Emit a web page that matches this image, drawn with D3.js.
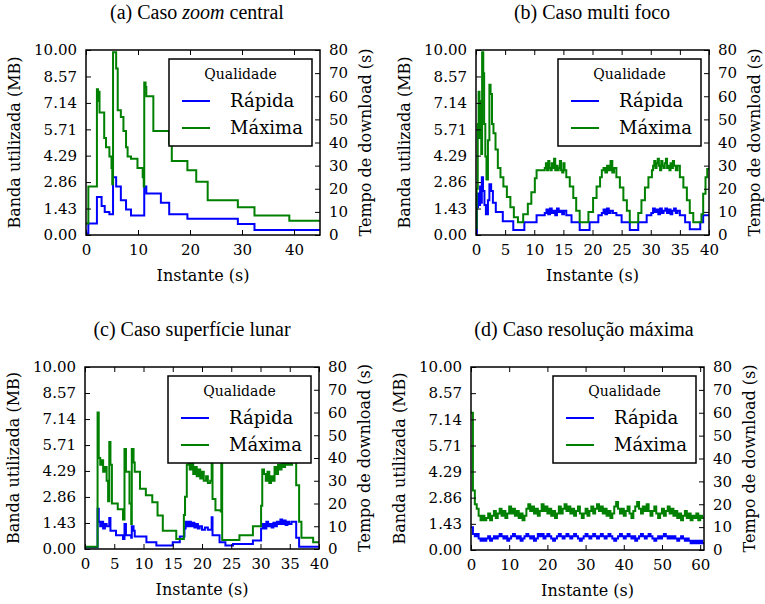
<!DOCTYPE html>
<html>
<head>
<meta charset="utf-8">
<script src="https://cdn.jsdelivr.net/npm/d3@7"></script>
<style>
  body { margin: 0; background: #fff; }
  svg { display: block; }
</style>
</head>
<body>
<svg id="fig" width="765" height="604" font-family="DejaVu Serif"></svg>
<script>
// fonts
const SERIF = '"DejaVu Serif", "Liberation Serif"'
const TIMES = '"Liberation Serif"'

// shared ticks
const bandTicks = [0, 1.43, 2.86, 4.29, 5.71, 7.14, 8.57, 10.0]
const tempoTicks = [0, 10, 20, 30, 40, 50, 60, 70, 80]
const seriesNames = ['Rápida', 'Máxima']
const seriesColors = ['#0000ff', '#008000']

// (a) zoom central -- [instante, tempo de download]
const zoomRapida = [[0, 0.7], [0.45, 5], [2.1, 16.4], [3.0, 12.5], [3.6, 10], [4.5, 9], [5.2, 25], [5.8, 21], [6.7, 15],
  [7.7, 11], [8.65, 8.4], [11.1, 8.4], [11.2, 21], [11.6, 18], [14.4, 14], [16.0, 9], [19.5, 7], [29.2, 4.8],
  [32.4, 2.2], [45, 2.2]]
const zoomMaxima = [[0, 5], [0.45, 21], [2.1, 63], [2.3, 58], [2.45, 62], [2.6, 53], [3.5, 42], [3.85, 38], [4.5, 34],
  [4.9, 29], [5.05, 22], [5.2, 79], [5.8, 72], [6.1, 54], [6.7, 51], [7.2, 45], [7.7, 38], [8.0, 34], [8.65, 33],
  [9.9, 29], [10.9, 25], [11.1, 21], [11.2, 66], [11.45, 64], [11.6, 60], [12.95, 45], [16.0, 39.5], [16.5, 32],
  [19.5, 28], [21.2, 23], [23.4, 15], [29.2, 12], [32.4, 8.4], [39.1, 6.2], [45, 6.2]]

// (b) multi foco
const multiRapida = [[0, 0.5], [0.15, 12], [0.35, 18], [0.5, 13], [0.7, 21], [0.85, 14], [1.0, 25], [1.2, 19], [1.45, 13],
  [1.7, 9], [2.05, 15], [2.3, 22], [2.6, 19], [2.9, 14], [3.4, 10], [4.6, 6], [6.4, 2.2], [8.3, 5.5], [10.4, 8.5],
  [11.8, 9.5], [12.1, 11], [12.4, 9], [12.7, 11.5], [13.0, 9.5], [13.3, 10.5], [13.6, 8.5], [13.9, 11.5], [14.2, 10],
  [14.5, 10.5], [14.8, 9], [15.1, 10.5], [15.5, 8.5], [16.4, 5.5], [17.8, 2.2], [19.5, 5.5], [21.0, 8.5], [21.6, 9.5],
  [21.9, 11], [22.2, 9], [22.5, 11.5], [22.8, 9.5], [23.1, 10.5], [23.5, 9.5], [24.1, 8.5], [25.0, 5.5], [26.4, 2.2],
  [27.85, 5.5], [29.3, 8.5], [30.1, 9.5], [30.4, 11.5], [30.7, 10], [31.0, 11], [31.3, 9], [31.6, 11.5], [31.9, 9.5],
  [32.2, 10.5], [32.5, 11.5], [32.8, 9.5], [33.1, 11], [33.4, 9], [33.7, 10.5], [34.0, 11.5], [34.3, 9.5], [34.6, 10.5],
  [35.0, 8.5], [35.9, 5.5], [36.7, 2.5], [38.5, 5.5], [39.0, 8.5], [40, 8.5]]
const multiMaxima = [[0, 3], [0.12, 20], [0.3, 48], [0.45, 62], [0.6, 42], [0.75, 58], [0.9, 35], [1.05, 79], [1.25, 70],
  [1.4, 48], [1.6, 34], [1.8, 24], [2.05, 41], [2.3, 65], [2.5, 61], [2.75, 48], [3.0, 44], [3.35, 37], [3.75, 29],
  [4.2, 25], [4.7, 21], [5.3, 16.4], [5.9, 12], [6.5, 7.7], [7.2, 5.5], [8.1, 9], [8.9, 13.5], [9.5, 18.5],
  [10.1, 24.5], [10.4, 28], [11.8, 29], [12.0, 31], [12.2, 28], [12.4, 32], [12.6, 29], [12.8, 28], [13.0, 31],
  [13.2, 29], [13.4, 33], [13.6, 28], [13.8, 30], [14.0, 28], [14.2, 29], [14.4, 32], [14.6, 28], [14.8, 27],
  [15.0, 31], [15.2, 28], [15.5, 25], [16.1, 21], [16.7, 16], [17.2, 10.5], [17.8, 5.5], [19.3, 10], [20.1, 16],
  [20.7, 21], [21.3, 25], [21.6, 28], [21.9, 29], [22.2, 27], [22.5, 30], [22.8, 28], [23.1, 32], [23.4, 27],
  [23.7, 29], [24.1, 25], [24.7, 20.5], [25.3, 15], [25.9, 10.5], [26.4, 5.5], [27.85, 9.5], [28.4, 15],
  [29.0, 20.5], [29.6, 25], [30.2, 28], [30.4, 30], [30.6, 32], [30.8, 29], [31.0, 31], [31.2, 33], [31.4, 30],
  [31.6, 28], [31.8, 32], [32.0, 30], [32.2, 29], [32.4, 31], [32.6, 33], [32.8, 29], [33.0, 30], [33.2, 28],
  [33.4, 31], [33.6, 29], [33.8, 32], [34.0, 30], [34.3, 28], [34.6, 30], [35.0, 25], [35.6, 20.5], [36.2, 15],
  [36.7, 9.5], [37.3, 5.5], [38.7, 9], [39.0, 17.8], [39.4, 25], [39.7, 28.5], [40, 28.5]]

// (c) superficie lunar
const lunarRapida = [[0, 0.8], [2.15, 17.7], [2.35, 12], [2.6, 10], [2.85, 12], [3.1, 9], [3.4, 11], [3.7, 10], [4.15, 13.6],
  [4.35, 8], [5.3, 6], [6.5, 4.4], [6.75, 11], [7.0, 6], [7.9, 5], [8.0, 10], [8.3, 8], [8.5, 5.5], [10.5, 3],
  [12.2, 1.5], [15.0, 3], [16.2, 5.5], [17.0, 9], [17.2, 12], [17.5, 10], [17.8, 12], [18.1, 10], [18.4, 11.5],
  [18.7, 9.5], [19.0, 11], [19.3, 9], [19.6, 10], [20.0, 8.5], [20.5, 9.5], [21.0, 8.5], [21.65, 14], [21.8, 6],
  [23.0, 3], [24.0, 1.5], [25.3, 2.2], [28.7, 3.7], [30.1, 9], [30.4, 11], [30.7, 9], [31.0, 12], [31.3, 10],
  [31.6, 11], [31.9, 9.5], [32.2, 11.5], [32.5, 10], [32.8, 12], [33.1, 11], [33.4, 13], [33.7, 11], [34.0, 12.5],
  [34.3, 10.5], [34.6, 12], [34.9, 11], [35.3, 12], [36.1, 5], [36.6, 1], [40, 1]]
const lunarMaxima = [[0, 1], [2.15, 60], [2.35, 40], [2.6, 37], [2.85, 39], [3.1, 34], [3.4, 36], [3.7, 30], [3.95, 21],
  [4.15, 47], [4.35, 37], [4.6, 20], [5.6, 17.5], [6.5, 13], [6.75, 44], [7.0, 34], [7.6, 20], [7.9, 11], [8.0, 44],
  [8.3, 38], [8.5, 34], [9.4, 26.5], [10.4, 23.6], [11.5, 20.6], [12.4, 14.7], [13.3, 8], [15.6, 4.4], [16.9, 15],
  [17.1, 23], [17.4, 37], [17.7, 42], [17.9, 35], [18.2, 40], [18.5, 33], [18.8, 36], [19.1, 32], [19.4, 35],
  [19.7, 31], [20.0, 34], [20.3, 30], [20.7, 32], [21.0, 29], [21.4, 30], [21.65, 55], [21.8, 22], [22.3, 17],
  [23.2, 16.5], [23.3, 55], [23.45, 4], [25.3, 4], [26.4, 6], [28.7, 10], [30.1, 19], [30.3, 35], [30.6, 33],
  [30.9, 30], [31.2, 34], [31.5, 29], [31.8, 32], [32.1, 30], [32.4, 36], [32.7, 33], [33.0, 37], [33.3, 35],
  [33.6, 38], [33.9, 36], [34.2, 39], [34.5, 37], [34.8, 39], [35.1, 37], [35.4, 39], [36.1, 28], [36.6, 12],
  [37.0, 5], [39.0, 3], [40, 3]]

// (d) resolucao maxima -- one sample every half second, 0 .. 61 s
const maxResStep = 0.5
const maxResRapida = [10, 7, 6, 7, 5, 4, 5, 4, 5, 6, 4, 5, 6, 5, 6, 7, 6, 5, 6, 4, 5, 6, 7, 6, 5, 6, 4, 5, 6, 7,
  6, 5, 6, 4, 5, 7, 6, 7, 5, 6, 7, 6, 5, 4, 5, 6, 7, 6, 5, 6, 7, 6, 5, 6, 7, 6, 5, 4, 5, 6,
  7, 6, 5, 6, 7, 6, 5, 6, 7, 6, 5, 6, 7, 6, 5, 4, 5, 6, 7, 6, 5, 6, 7, 6, 5, 6, 4, 5, 6, 7,
  6, 5, 6, 7, 6, 5, 4, 5, 6, 5, 6, 7, 6, 5, 6, 5, 6, 5, 4, 5, 6, 5, 4, 5, 4, 3, 4, 3, 4, 3,
  4, 3, 3]
const maxResMaxima = [60, 26, 20, 18, 15, 13, 15, 13, 14, 16, 13, 15, 17, 14, 16, 18, 15, 17, 14, 16, 19, 16, 18, 15,
  17, 14, 16, 13, 15, 18, 20, 17, 19, 16, 18, 15, 17, 20, 17, 19, 16, 18, 15, 17, 14, 16, 19, 16, 18, 20,
  17, 19, 16, 18, 15, 17, 19, 16, 14, 16, 18, 15, 17, 19, 16, 18, 20, 17, 19, 16, 18, 15, 17, 14, 16, 19,
  21, 18, 16, 18, 15, 17, 19, 16, 14, 17, 19, 21, 18, 16, 19, 17, 20, 17, 15, 17, 19, 16, 14, 16, 18, 15,
  17, 19, 16, 18, 15, 17, 14, 16, 13, 15, 17, 14, 16, 13, 15, 14, 16, 13, 15, 14, 14]

const sampled = (values) => values.map((v, i) => [i * maxResStep, v])

const panels = [
  { title: ['(a) Caso ', 'zoom', ' central'], cx: 197, left: 86, top: 50, width: 234, height: 185,
    xMax: 45, xTicks: [0, 10, 20, 30, 40], series: [zoomRapida, zoomMaxima] },
  { title: ['(b) Caso multi foco'], cx: 592, left: 476, top: 50, width: 233, height: 185,
    xMax: 40, xTicks: [0, 5, 10, 15, 20, 25, 30, 35, 40], series: [multiRapida, multiMaxima] },
  { title: ['(c) Caso superfície lunar'], cx: 192, left: 85, top: 367, width: 234, height: 182,
    xMax: 40, xTicks: [0, 5, 10, 15, 20, 25, 30, 35, 40], series: [lunarRapida, lunarMaxima] },
  { title: ['(d) Caso resolução máxima'], cx: 584, left: 471, top: 367, width: 233, height: 183,
    xMax: 61, xTicks: [0, 10, 20, 30, 40, 50, 60], series: [sampled(maxResRapida), sampled(maxResMaxima)] },
]

const svg = d3.select('#fig')

// serif text: family as attribute and as inline style
const serifText = (sel, size) => sel
  .attr('font-family', 'DejaVu Serif')
  .attr('font-size', size)
  .style('font-family', SERIF)
  .style('font-size', size + 'px')
  .attr('fill', '#000')

const drawPanel = (p, idx) => {
  const g = svg.append('g').attr('transform', `translate(${p.left},${p.top})`)
    .attr('font-family', 'DejaVu Serif')
  const x = d3.scaleLinear().domain([0, p.xMax]).range([0, p.width])
  const yBand = d3.scaleLinear().domain([0, 10]).range([p.height, 0])
  const yTempo = d3.scaleLinear().domain([0, 80]).range([p.height, 0])

  // title
  const t = svg.append('text')
    .attr('x', p.cx).attr('y', p.top - 31).attr('text-anchor', 'middle')
    .attr('font-family', 'Liberation Serif')
    .style('font-family', TIMES).style('font-size', '20px')
  p.title.forEach((s, i) => {
    t.append('tspan').text(s).style('font-style', i === 1 ? 'italic' : 'normal')
  })

  // lines
  const clipId = 'clip' + idx
  g.append('clipPath').attr('id', clipId).append('rect')
    .attr('width', p.width).attr('height', p.height)
  const line = d3.line()
    .x((d) => x(d[0]))
    .y((d) => yTempo(d[1]))
    .curve(d3.curveStepAfter)
  p.series.forEach((data, i) => {
    g.append('path')
      .datum(data)
      .attr('clip-path', `url(#${clipId})`)
      .attr('d', line)
      .attr('fill', 'none')
      .attr('stroke', seriesColors[i])
      .attr('stroke-width', 2)
  })

  // axes, ticks pointing inward
  const styleAxis = (sel) => {
    sel.attr('font-family', 'DejaVu Serif').attr('font-size', 15)
    sel.select('.domain').remove()
    sel.selectAll('.tick line').attr('stroke', '#000').attr('stroke-width', 1)
    sel.selectAll('.tick text').call(serifText, 15)
  }
  g.append('g').attr('transform', `translate(0,${p.height})`)
    .call(d3.axisBottom(x).tickValues(p.xTicks).tickSize(-5).tickPadding(9))
    .call(styleAxis)
  g.append('g')
    .call(d3.axisTop(x).tickValues(p.xTicks).tickSize(-5).tickFormat(''))
    .call(styleAxis)
  g.append('g')
    .call(d3.axisLeft(yBand).tickValues(bandTicks).tickSize(-5).tickPadding(9).tickFormat(d3.format('.2f')))
    .call(styleAxis)
  g.append('g').attr('transform', `translate(${p.width},0)`)
    .call(d3.axisRight(yTempo).tickValues(tempoTicks).tickSize(-5).tickPadding(9))
    .call(styleAxis)

  g.append('rect')
    .attr('width', p.width).attr('height', p.height)
    .attr('fill', 'none').attr('stroke', '#000').attr('stroke-width', 1.5)

  // axis labels
  g.append('text').call(serifText, 16).attr('text-anchor', 'middle')
    .attr('x', p.width / 2).attr('y', p.height + 46)
    .text('Instante (s)')
  g.append('text').call(serifText, 16).attr('text-anchor', 'middle')
    .attr('transform', `translate(-66,${p.height / 2}) rotate(-90)`)
    .text('Banda utilizada (MB)')
  g.append('text').call(serifText, 16).attr('text-anchor', 'middle')
    .attr('transform', `translate(${p.width + 51},${p.height / 2}) rotate(-90)`)
    .text('Tempo de download (s)')

  // legend
  const lw = 143, lh = 87
  const lg = g.append('g').attr('transform', `translate(${p.width - 8 - lw},9)`)
  lg.append('rect').attr('width', lw).attr('height', lh)
    .attr('fill', '#fff').attr('stroke', '#000').attr('stroke-width', 1.5)
  lg.append('text').call(serifText, 14).attr('x', lw / 2).attr('y', 20).attr('text-anchor', 'middle')
    .text('Qualidade')
  seriesNames.forEach((name, i) => {
    const yy = 42 + i * 27
    lg.append('line').attr('x1', 13).attr('x2', 41).attr('y1', yy).attr('y2', yy)
      .attr('stroke', seriesColors[i]).attr('stroke-width', 2)
    lg.append('text').call(serifText, 18).attr('x', 61).attr('y', yy + 6)
      .text(name)
  })
}

panels.forEach(drawPanel)
</script>
</body>
</html>
